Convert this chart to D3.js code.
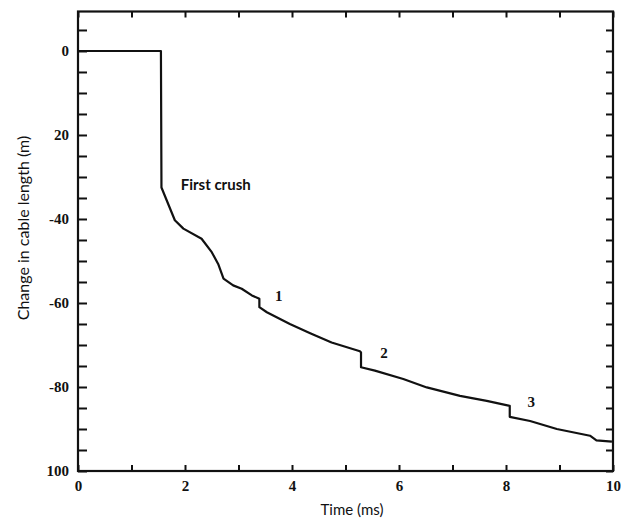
<!DOCTYPE html>
<html>
<head>
<meta charset="utf-8">
<script src="https://cdn.jsdelivr.net/npm/d3@7"></script>
<style>
  body { margin: 0; background: #fff; }
  svg text { font-family: "Liberation Serif", "DejaVu Serif", serif; fill: #111; }
  svg text.sans { font-family: Lato, "Open Sans", sans-serif; }
</style>
</head>
<body>
<svg id="chart"></svg>
<script>
// chart size
var svgWidth = 621;
var svgHeight = 519;
var margin = {top: 11.5, right: 8, bottom: 48, left: 78};

// data: time (ms) and change in cable length (m)
var timeMs = [0, 1.55, 1.56, 1.81, 1.97, 2.31, 2.50, 2.62, 2.72, 2.90, 3.06, 3.25, 3.39, 3.39, 3.53, 3.96, 4.34, 4.74, 5.27, 5.29, 5.29, 5.55, 6.08, 6.52, 7.14, 7.64, 8.07, 8.07, 8.45, 8.95, 9.57, 9.69, 9.98];
var lengthChange = [0, 0, -32.5, -40.3, -42.3, -44.7, -47.9, -50.7, -54.2, -55.8, -56.6, -58.2, -59.0, -61.0, -62.2, -65.0, -67.2, -69.4, -71.5, -71.8, -75.3, -76.1, -78.1, -80.1, -82.1, -83.3, -84.5, -87.1, -88.1, -90.0, -91.6, -92.7, -93.0];

// tick values / labels (labels as printed on the figure)
var xTickValues = [0, 2, 4, 6, 8, 10];
var xTickLabels = ["0", "2", "4", "6", "8", "10"];
var yTickValues = [0, -20, -40, -60, -80, -100];
var yTickLabels = ["0", "20", "-40", "-60", "-80", "100"];

// annotations
var noteText = ["First crush", "1", "2", "3"];
var noteX = [1.92, 3.68, 5.65, 8.4];
var noteY = [-33.2, -59.6, -73.2, -84.8];

var plotW = svgWidth - margin.left - margin.right;
var plotH = svgHeight - margin.top - margin.bottom;

var svg = d3.select("#chart").attr("width", svgWidth).attr("height", svgHeight);

var x = d3.scaleLinear().domain([0, 10]).range([margin.left, margin.left + plotW]);
var y = d3.scaleLinear().domain([-100, 9.4]).range([margin.top + plotH, margin.top]);

//minor ticks on all four sides, pointing inward
var minorX = d3.range(0, 10.01, 1);
var minorY = d3.range(5, -100.01, -5);

function styleAxis(g) {
    g.select(".domain").remove();
    g.selectAll(".tick line").attr("stroke", "#111").attr("stroke-width", 2);
}

svg.append("g").attr("transform", "translate(0," + (margin.top + plotH) + ")")
    .call(d3.axisBottom(x).tickValues(minorX).tickSize(-6).tickFormat(""))
    .call(styleAxis);
svg.append("g").attr("transform", "translate(0," + margin.top + ")")
    .call(d3.axisTop(x).tickValues(minorX).tickSize(-6).tickFormat(""))
    .call(styleAxis);
svg.append("g").attr("transform", "translate(" + margin.left + ",0)")
    .call(d3.axisLeft(y).tickValues(minorY).tickSize(-9).tickFormat(""))
    .call(styleAxis);
svg.append("g").attr("transform", "translate(" + (margin.left + plotW) + ",0)")
    .call(d3.axisRight(y).tickValues(minorY).tickSize(-7).tickFormat(""))
    .call(styleAxis);

// labelled axes (labels only, ticks already drawn)
var xAxis = svg.append("g").attr("transform", "translate(0," + (margin.top + plotH) + ")")
    .call(d3.axisBottom(x).tickValues(xTickValues).tickSize(0).tickPadding(9)
        .tickFormat(function(d, i) { return xTickLabels[i]; }));
xAxis.select(".domain").remove();
xAxis.selectAll("text").style("font-size", "15px").style("font-weight", "bold");

var yAxis = svg.append("g").attr("transform", "translate(" + margin.left + ",0)")
    .call(d3.axisLeft(y).tickValues(yTickValues).tickSize(0).tickPadding(9)
        .tickFormat(function(d, i) { return yTickLabels[i]; }));
yAxis.select(".domain").remove();
yAxis.selectAll("text").style("font-size", "15px").style("font-weight", "bold");

// frame
svg.append("rect")
    .attr("x", margin.left).attr("y", margin.top)
    .attr("width", plotW).attr("height", plotH)
    .attr("fill", "none").attr("stroke", "#111").attr("stroke-width", 2.2);

// the trace
var line = d3.line()
    .x(function(d, i) { return x(timeMs[i]); })
    .y(function(d, i) { return y(lengthChange[i]); });

svg.append("path")
    .datum(timeMs)
    .attr("d", line)
    .attr("fill", "none")
    .attr("stroke", "#111")
    .attr("stroke-width", 2.2)
    .attr("stroke-linejoin", "round");

// annotations
svg.selectAll(".note")
    .data(noteText)
    .enter()
    .append("text")
    .attr("class", function(d, i) { return i == 0 ? "note sans" : "note"; })
    .attr("x", function(d, i) { return x(noteX[i]); })
    .attr("y", function(d, i) { return y(noteY[i]); })
    .style("font-size", function(d, i) { return i == 0 ? "15px" : "15px"; })
    .style("font-weight", "bold")
    .text(function(d) { return d; });

// axis titles
svg.append("text")
    .attr("class", "sans")
    .attr("x", 352).attr("y", 515)
    .attr("text-anchor", "middle")
    .style("font-size", "15px")
    .text("Time (ms)");

svg.append("text")
    .attr("class", "sans")
    .attr("transform", "translate(29," + 228 + ") rotate(-90)")
    .attr("text-anchor", "middle")
    .style("font-size", "16px")
    .text("Change in cable length (m)");
</script>
</body>
</html>
